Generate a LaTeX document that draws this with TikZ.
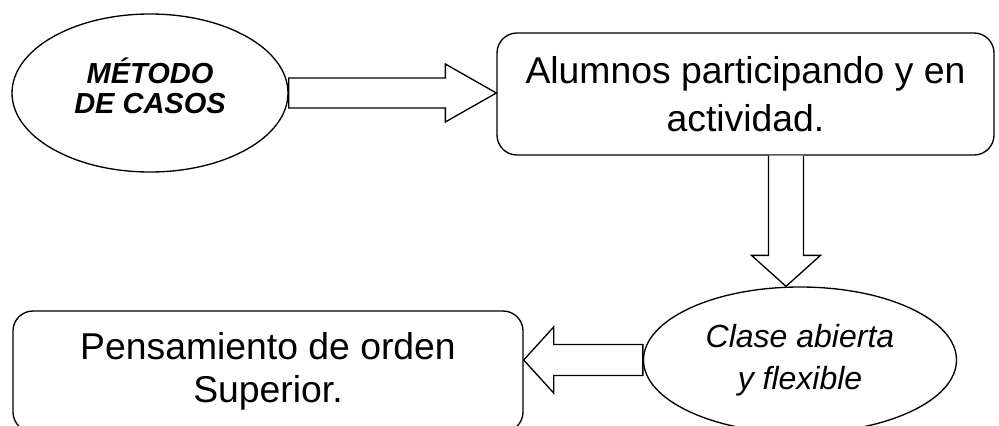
\documentclass[tikz,border=0pt]{standalone}
\usepackage{fontspec}
\setmainfont{Liberation Sans}
\usetikzlibrary{shapes.geometric,calc}

\begin{document}
\begin{tikzpicture}[x=0.75pt, y=-0.75pt, line width=1pt,
  oval/.style={draw, ellipse, inner sep=0pt},
  roundbox/.style={draw, rectangle, rounded corners=15pt, inner sep=0pt, align=center,
    font=\fontsize{28pt}{36pt}\selectfont},
  blockarrow/.style={draw, fill=white, line join=miter}]
% Fix the page size
\useasboundingbox (0,0) rectangle (999,425);

% Draw the shapes
\node[oval, minimum width=207pt, minimum height=118.5pt] (metodo) at (150, 93) {};
\node[align=center, font=\fontsize{21.75pt}{22.5pt}\selectfont\bfseries\itshape] (metodotxt) at (150, 86) {MÉTODO\\DE CASOS};
\node[roundbox, minimum width=372.75pt, minimum height=91.5pt] (alumnos) at (745.5, 94) {Alumnos participando y en\\actividad.};
\node[oval, minimum width=234.75pt, minimum height=109.5pt, align=center,
  font=\fontsize{24pt}{31.5pt}\selectfont\itshape] (clase) at (800, 360) {Clase abierta\\y flexible};
\node[roundbox, minimum width=382.5pt, minimum height=90.75pt,
  font=\fontsize{28pt}{32.25pt}\selectfont] (pensamiento) at (268, 371.5) {Pensamiento de orden\\Superior.};

% Draw the block arrows
\coordinate (tipa) at (alumnos.west |- metodo.east);
\draw[blockarrow] ($(metodo.east)+(0,-15)$) -- ($(tipa)+(-51,-15)$) -- ++(0,-14) -- (tipa) -- ++(-51,29) -- ++(0,-14) -- ($(metodo.east)+(0,15)$) -- cycle;
\coordinate (tipb) at ($(clase.north)+(-14,0)$);
\draw[blockarrow] ($(alumnos.south -| tipb)+(-17.5,0)$) -- ($(tipb)+(-17.5,-31)$) -- ++(-17,0) -- (tipb) -- ++(34.5,-31) -- ++(-17,0) -- ($(alumnos.south -| tipb)+(17.5,0)$);
\coordinate (tipc) at (pensamiento.east |- clase.west);
\draw[blockarrow] ($(clase.west)+(0,-15.5)$) -- ($(tipc)+(30,-15.5)$) -- ++(0,-17.5) -- (tipc) -- ++(30,33) -- ++(0,-17.5) -- ($(clase.west)+(0,15.5)$) -- cycle;
\end{tikzpicture}
\end{document}
